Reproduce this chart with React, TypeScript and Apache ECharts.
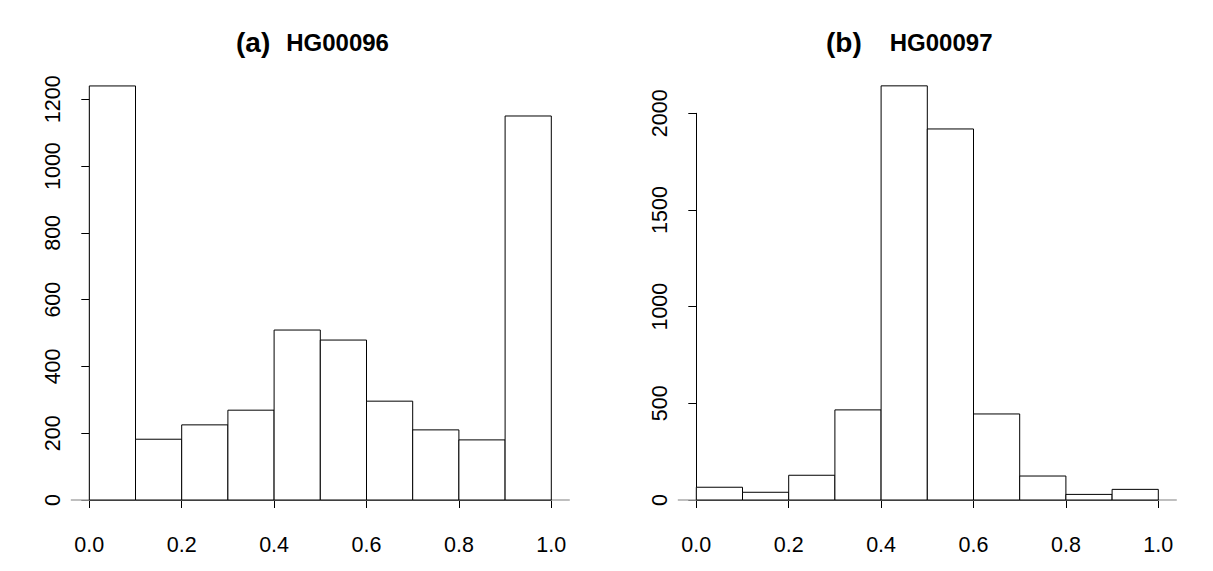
import React, { useEffect, useRef } from "react";
import * as echarts from "echarts";

const breaks = [0, 0.1, 0.2, 0.3, 0.4, 0.5, 0.6, 0.7, 0.8, 0.9, 1.0];
const countsA = [1240, 182, 225, 269, 509, 479, 296, 210, 180, 1150];
const countsB = [66, 40, 128, 466, 2142, 1919, 445, 124, 29, 55];
const titleTagA = "(a)";
const titleNameA = "HG00096";
const titleTagB = "(b)";
const titleNameB = "HG00097";
const yMaxA = 1200;
const yStepA = 200;
const yMaxB = 2000;
const yStepB = 500;

const FONT = "Liberation Sans, Arial, sans-serif";

function binData(counts: number[]) {
  return counts.map((c, i) => [breaks[i], breaks[i + 1], c]);
}

const barRender = (params: any, api: any) => {
  const x0 = api.value(0);
  const x1 = api.value(1);
  const y = api.value(2);
  const p0 = api.coord([x0, y]);
  const p1 = api.coord([x1, 0]);
  return {
    type: "rect",
    shape: { x: p0[0], y: p0[1], width: p1[0] - p0[0], height: p1[1] - p0[1] },
    style: { fill: "#fff", stroke: "#000", lineWidth: 1 },
  };
};

const baseRender = (params: any, api: any) => {
  const a = api.coord([api.value(0), 0]);
  const b = api.coord([api.value(1), 0]);
  return {
    type: "line",
    shape: { x1: a[0], y1: a[1], x2: b[0], y2: b[1] },
    style: { stroke: "#aaaaaa", lineWidth: 1.5 },
  };
};

export default function App() {
  const ref = useRef<HTMLDivElement>(null);
  useEffect(() => {
    if (!ref.current) return;
    const chart = echarts.init(ref.current, null, { renderer: "svg" });
    const xAxisCommon = {
      type: "value",
      min: 0,
      max: 1,
      interval: 0.2,
      offset: 16.7,
      axisLine: { show: true, lineStyle: { color: "#000", width: 1 } },
      axisTick: { show: true, length: 8, lineStyle: { color: "#000", width: 1 } },
      axisLabel: {
        fontSize: 21.5,
        color: "#000",
        fontFamily: FONT,
        margin: 17,
        showMinLabel: true,
        showMaxLabel: true,
        formatter: (v: number) => v.toFixed(1),
      },
      splitLine: { show: false },
    };
    const yAxisCommon = {
      type: "value",
      min: 0,
      offset: 19,
      axisLine: { show: true, lineStyle: { color: "#000", width: 1 } },
      axisTick: { show: true, length: 8, lineStyle: { color: "#000", width: 1 } },
      axisLabel: {
        fontSize: 21.5,
        color: "#000",
        fontFamily: FONT,
        rotate: 90,
        margin: 6,
        showMinLabel: true,
        showMaxLabel: true,
        formatter: (v: number) => String(v),
      },
      splitLine: { show: false },
    };
    const richStyle = (gap: number) => ({
      a: { fontSize: 28, fontWeight: "bold", fontFamily: FONT, color: "#000", lineHeight: 32 },
      b: {
        fontSize: 24,
        fontWeight: "bold",
        fontFamily: FONT,
        color: "#000",
        lineHeight: 32,
        padding: [0, 0, 0, gap],
      },
    });
    chart.setOption({
      animation: false,
      backgroundColor: "#fff",
      title: [
        {
          left: 236,
          top: 26,
          padding: 0,
          text: `{a|${titleTagA}}{b|${titleNameA}}`,
          textStyle: { rich: richStyle(16) },
        },
        {
          left: 826,
          top: 26,
          padding: 0,
          text: `{a|${titleTagB}}{b|${titleNameB}}`,
          textStyle: { rich: richStyle(28) },
        },
      ],
      grid: [
        { left: 89.3, width: 462, top: 99.3, height: 400.7 },
        { left: 696.3, width: 462, top: 113.3, height: 386.7 },
      ],
      xAxis: [
        { ...xAxisCommon, gridIndex: 0 },
        { ...xAxisCommon, gridIndex: 1 },
      ],
      yAxis: [
        { ...yAxisCommon, gridIndex: 0, max: yMaxA, interval: yStepA },
        { ...yAxisCommon, gridIndex: 1, max: yMaxB, interval: yStepB },
      ],
      series: [
        {
          type: "custom",
          xAxisIndex: 0,
          yAxisIndex: 0,
          clip: false,
          renderItem: baseRender,
          data: [[-0.04, 1.04]],
          encode: { x: [0, 1] },
          silent: true,
        },
        {
          type: "custom",
          xAxisIndex: 1,
          yAxisIndex: 1,
          clip: false,
          renderItem: baseRender,
          data: [[-0.04, 1.04]],
          encode: { x: [0, 1] },
          silent: true,
        },
        {
          type: "custom",
          xAxisIndex: 0,
          yAxisIndex: 0,
          clip: false,
          renderItem: barRender,
          data: binData(countsA),
          encode: { x: [0, 1], y: 2 },
        },
        {
          type: "custom",
          xAxisIndex: 1,
          yAxisIndex: 1,
          clip: false,
          renderItem: barRender,
          data: binData(countsB),
          encode: { x: [0, 1], y: 2 },
        },
      ],
    });
    return () => chart.dispose();
  }, []);
  return (
    <div
      ref={ref}
      style={{ position: "absolute", left: 0, top: 0, width: 1213, height: 571, background: "#fff" }}
    />
  );
}
